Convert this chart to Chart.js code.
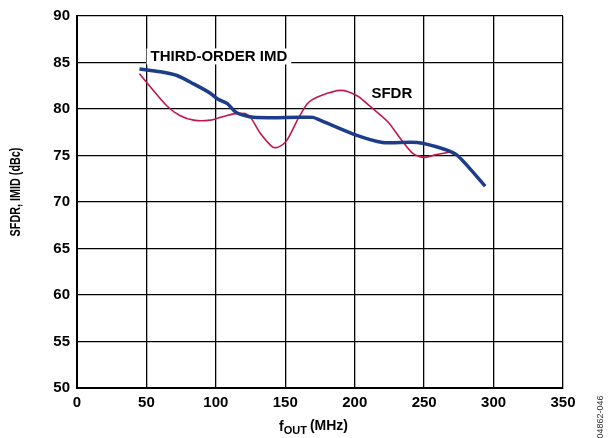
<!DOCTYPE html>
<html>
<head>
<meta charset="utf-8">
<script src="https://cdn.jsdelivr.net/npm/chart.js@4.4.0/dist/chart.umd.min.js"></script>
<style>
  html, body { margin: 0; padding: 0; background: #fff; }
  #wrap { width: 608px; height: 438px; position: relative; }
</style>
</head>
<body>
<div id="wrap"><canvas id="sfdrChart" width="608" height="438"></canvas></div>
<script>
// fOUT (MHz) / dBc readings
const imdX  = [45, 60, 72, 84, 96, 101, 108, 115, 127, 160, 170, 175, 199, 220, 245, 264, 274, 294];
const imdY  = [84.3, 84.0, 83.6, 82.7, 81.7, 81.1, 80.6, 79.6, 79.1, 79.1, 79.1, 78.8, 77.3, 76.4, 76.4, 75.7, 75.0, 71.7];
const sfdrX = [45, 55, 65, 74, 84, 96, 103, 114, 121, 125, 132, 141, 145, 151, 158, 166, 175, 190, 202, 211, 224, 233, 242, 250, 259, 270];
const sfdrY = [83.8, 82.0, 80.3, 79.3, 78.8, 78.8, 79.1, 79.5, 79.5, 79.1, 77.4, 75.9, 75.9, 76.6, 78.6, 80.6, 81.4, 82.0, 81.4, 80.3, 78.6, 76.8, 75.2, 74.8, 75.1, 75.4];
const xTicks = [0, 50, 100, 150, 200, 250, 300, 350];
const yTicks = [50, 55, 60, 65, 70, 75, 80, 85, 90];

const FONT = '"Liberation Sans", Arial, Helvetica, sans-serif';

// titles, inline labels and the figure number
const annotations = {
    id: 'annotations',
    beforeDatasetsDraw(chart) {
        const { ctx, scales: { x, y } } = chart;
        ctx.save();
        ctx.font = 'bold 15px ' + FONT;
        ctx.textBaseline = 'middle';
        const lx = x.getPixelForValue(53);
        const ly = y.getPixelForValue(85.65);
        const w = ctx.measureText('THIRD-ORDER IMD').width;
        ctx.fillStyle = '#fff';
        ctx.fillRect(lx - 4, ly - 8, w + 8, 16);
        ctx.fillStyle = '#000';
        ctx.fillText('THIRD-ORDER IMD', lx, ly);
        ctx.fillText('SFDR', x.getPixelForValue(212), y.getPixelForValue(81.6));
        ctx.restore();
    },
    afterDraw(chart) {
        const { ctx, chartArea } = chart;
        ctx.save();
        ctx.fillStyle = '#000';

        // y title (narrow face)
        ctx.translate(16, (chartArea.top + chartArea.bottom) / 2 - 10);
        ctx.rotate(-Math.PI / 2);
        ctx.scale(0.72, 1);
        ctx.font = 'bold 15px ' + FONT;
        ctx.textAlign = 'center';
        ctx.textBaseline = 'middle';
        ctx.fillText('SFDR, IMID (dBc)', 0, 0);
        ctx.restore();

        // x title with subscript
        ctx.save();
        ctx.fillStyle = '#000';
        ctx.textBaseline = 'alphabetic';
        ctx.font = 'bold 14px ' + FONT;
        let cx = 279;
        ctx.fillText('f', cx, 431);
        cx += ctx.measureText('f').width;
        ctx.font = 'bold 11px ' + FONT;
        ctx.fillText('OUT', cx, 434);
        cx += ctx.measureText('OUT').width + 3;
        ctx.font = 'bold 14px ' + FONT;
        ctx.fillText('(MHz)', cx, 430);
        ctx.restore();

        // figure number
        ctx.save();
        ctx.fillStyle = '#333';
        ctx.translate(601, 417);
        ctx.rotate(-Math.PI / 2);
        ctx.font = '9px ' + FONT;
        ctx.textAlign = 'center';
        ctx.textBaseline = 'middle';
        ctx.fillText('04862-046', 0, 0);
        ctx.restore();
    }
};

new Chart(document.getElementById('sfdrChart'), {
    type: 'line',
    data: {
        datasets: [
            {
                label: 'THIRD-ORDER IMD',
                data: imdX.map((v, i) => ({ x: v, y: imdY[i] })),
                borderColor: '#1d3c8a',
                borderWidth: 3.5,
                pointRadius: 0,
                tension: 0.25,
                borderCapStyle: 'butt'
            },
            {
                label: 'SFDR',
                data: sfdrX.map((v, i) => ({ x: v, y: sfdrY[i] })),
                borderColor: '#c2174b',
                borderWidth: 1.6,
                pointRadius: 0,
                tension: 0.25
            }
        ]
    },
    options: {
        responsive: false,
        animation: false,
        layout: { padding: { left: 0, right: 45, top: 15, bottom: 0 } },
        plugins: { legend: { display: false }, tooltip: { enabled: false } },
        scales: {
            x: {
                type: 'linear',
                min: 0, max: 350,
                afterBuildTicks: s => { s.ticks = xTicks.map(v => ({ value: v })); },
                afterFit: s => { s.height = 50; },
                grid: { color: '#000', lineWidth: 1.3, drawTicks: false },
                border: { color: '#000', width: 2 },
                ticks: { color: '#000', padding: 6, font: { family: FONT, size: 15, weight: 'bold' } }
            },
            y: {
                min: 50, max: 90,
                afterBuildTicks: s => { s.ticks = yTicks.map(v => ({ value: v })); },
                afterFit: s => { s.width = 77; },
                grid: { color: '#000', lineWidth: 1.3, drawTicks: false },
                border: { color: '#000', width: 2 },
                ticks: { color: '#000', padding: 7, font: { family: FONT, size: 15, weight: 'bold' } }
            }
        }
    },
    plugins: [annotations]
});
</script>
</body>
</html>
